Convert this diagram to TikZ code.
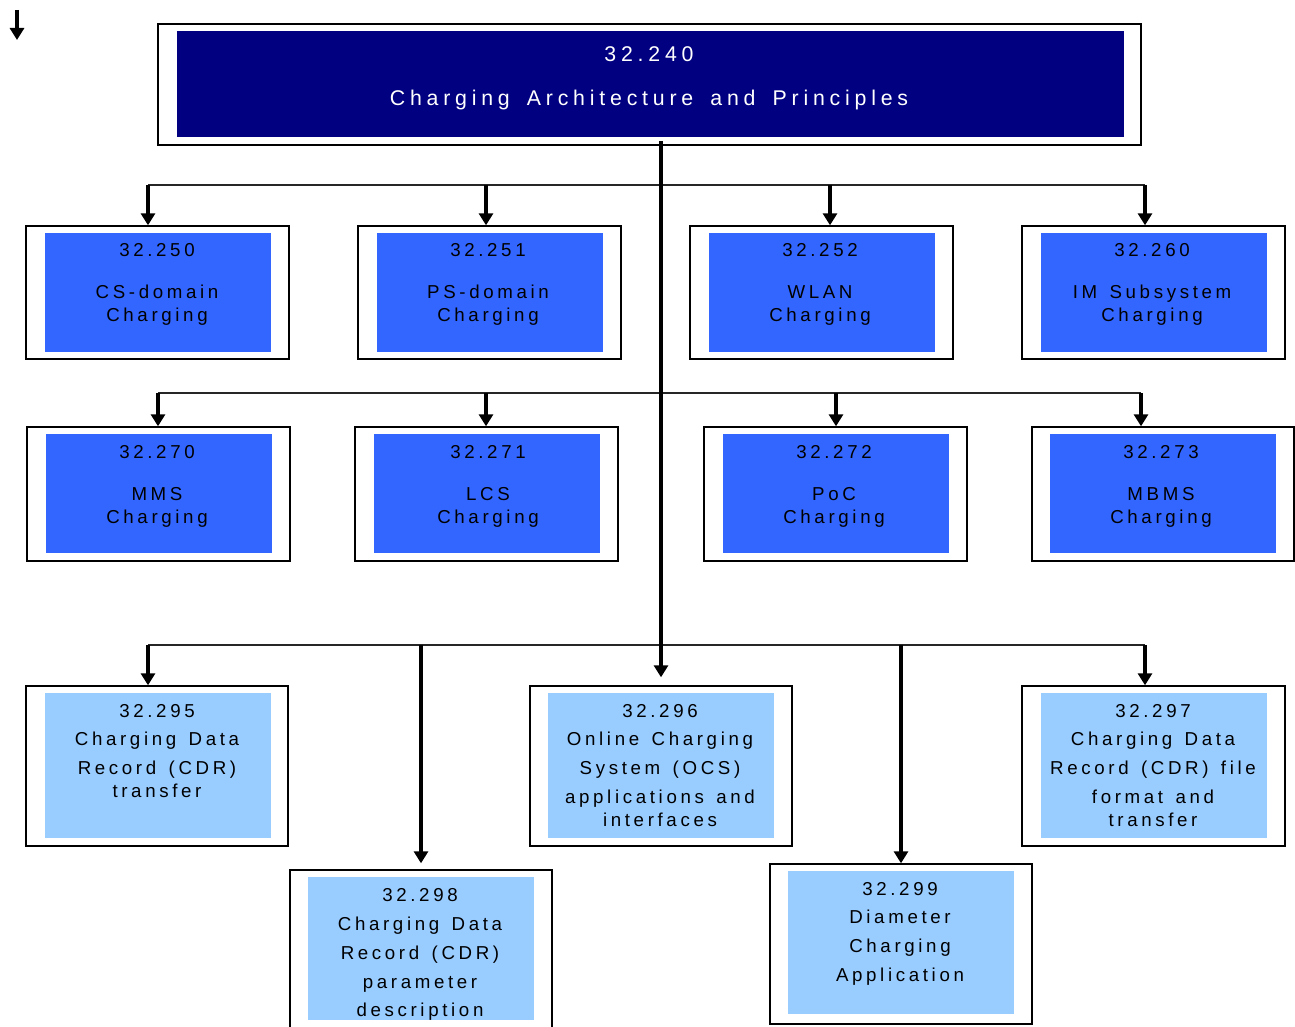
\documentclass[tikz,border=0pt]{standalone}
\usepackage{fontspec}
\setmainfont{Liberation Sans}[LetterSpace=19.5,WordSpace=1.4]
\newfontfamily\titlefont{Liberation Sans}[LetterSpace=22.5,WordSpace=1.6]
\usetikzlibrary{arrows.meta}
\definecolor{navyfill}{RGB}{0,0,128}
\definecolor{midblue}{RGB}{51,102,255}
\definecolor{lightblue}{RGB}{153,204,255}
\tikzset{
  outerbox/.style={draw=black, line width=1.4pt, fill=white, inner sep=0pt},
  innerbox/.style={draw=none, inner sep=0pt},
  lbl/.style={align=center, inner sep=0pt, anchor=north, text=black,
              font=\fontsize{18.7}{22.5}\selectfont},
  titlelbl/.style={align=center, inner sep=0pt, anchor=north, text=white,
              font=\titlefont\fontsize{21.3}{24}\selectfont},
  busline/.style={draw=black!85, line width=1.3pt},
  arr/.style={draw=black, line width=3.3pt,
              -{Triangle[width=14pt,length=12pt]}},
}
\begin{document}
\begin{tikzpicture}[x=1pt,y=-1pt]
\clip (0,0) rectangle (1295,1027);
\useasboundingbox (0,0) rectangle (1295,1027);
\fill[white] (0,0) rectangle (1295,1027);

% top-left lone arrow
\coordinate (la) at (17,10);
\coordinate (lb) at (17,40);
\draw[arr] (la) -- (lb);

% title box
\node[outerbox, minimum width=983pt, minimum height=121pt] (o240) at (649.5,84.5) {};
\node[innerbox, fill=navyfill, minimum width=947pt, minimum height=106pt] (i240) at (650.5,84) {};
\node[titlelbl] (t240) at (649,46) {32.240\\[20pt]Charging Architecture and Principles};

% bus coordinates
\coordinate (trunk) at (661,141);
\coordinate (b1L) at (148,185);
\coordinate (b1R) at (1145,185);
\coordinate (b1b) at (486,185);
\coordinate (b1c) at (830,185);
\coordinate (b2L) at (158,393);
\coordinate (b2R) at (1141,393);
\coordinate (b2b) at (486,393);
\coordinate (b2c) at (836,393);
\coordinate (b3L) at (148,645);
\coordinate (b3R) at (1145,645);
\coordinate (b3b) at (421,645);
\coordinate (b3c) at (901,645);

% row 1
\node[outerbox, minimum width=263pt, minimum height=133pt] (o250) at (157.5,292.5) {};
\node[innerbox, fill=midblue, minimum width=226pt, minimum height=119pt] (i250) at (158,292.5) {};
\node[lbl] (t250) at (157,243) {32.250\\[20pt]CS-domain\\Charging};

\node[outerbox, minimum width=263pt, minimum height=133pt] (o251) at (489.5,292.5) {};
\node[innerbox, fill=midblue, minimum width=226pt, minimum height=119pt] (i251) at (490,292.5) {};
\node[lbl] (t251) at (488,243) {32.251\\[20pt]PS-domain\\Charging};

\node[outerbox, minimum width=263pt, minimum height=133pt] (o252) at (821.5,292.5) {};
\node[innerbox, fill=midblue, minimum width=226pt, minimum height=119pt] (i252) at (822,292.5) {};
\node[lbl] (t252) at (820,243) {32.252\\[20pt]WLAN\\Charging};

\node[outerbox, minimum width=263pt, minimum height=133pt] (o260) at (1153.5,292.5) {};
\node[innerbox, fill=midblue, minimum width=226pt, minimum height=119pt] (i260) at (1154,292.5) {};
\node[lbl] (t260) at (1152,243) {32.260\\[20pt]IM Subsystem\\Charging};

% row 2
\node[outerbox, minimum width=263pt, minimum height=134pt] (o270) at (158.5,494) {};
\node[innerbox, fill=midblue, minimum width=226pt, minimum height=119pt] (i270) at (159,493.5) {};
\node[lbl] (t270) at (157,445) {32.270\\[20pt]MMS\\Charging};

\node[outerbox, minimum width=263pt, minimum height=134pt] (o271) at (486.5,494) {};
\node[innerbox, fill=midblue, minimum width=226pt, minimum height=119pt] (i271) at (487,493.5) {};
\node[lbl] (t271) at (488,445) {32.271\\[20pt]LCS\\Charging};

\node[outerbox, minimum width=263pt, minimum height=134pt] (o272) at (835.5,494) {};
\node[innerbox, fill=midblue, minimum width=226pt, minimum height=119pt] (i272) at (836,493.5) {};
\node[lbl] (t272) at (834,445) {32.272\\[20pt]PoC\\Charging};

\node[outerbox, minimum width=262pt, minimum height=134pt] (o273) at (1163,494) {};
\node[innerbox, fill=midblue, minimum width=226pt, minimum height=119pt] (i273) at (1163,493.5) {};
\node[lbl] (t273) at (1161,445) {32.273\\[20pt]MBMS\\Charging};

% row 3
\node[outerbox, minimum width=262pt, minimum height=160pt] (o295) at (157,766) {};
\node[innerbox, fill=lightblue, minimum width=226pt, minimum height=145pt] (i295) at (158,765.5) {};
\node[lbl] (t295) at (157,704) {32.295\\[6pt]Charging Data\\[6.5pt]Record (CDR)\\transfer};

\node[outerbox, minimum width=262pt, minimum height=160pt] (o296) at (661,766) {};
\node[innerbox, fill=lightblue, minimum width=226pt, minimum height=145pt] (i296) at (661,765.5) {};
\node[lbl] (t296) at (660,704) {32.296\\[6pt]Online Charging\\[6.5pt]System (OCS)\\[6.5pt]applications and\\interfaces};

\node[outerbox, minimum width=263pt, minimum height=160pt] (o297) at (1153.5,766) {};
\node[innerbox, fill=lightblue, minimum width=226pt, minimum height=145pt] (i297) at (1154,765.5) {};
\node[lbl] (t297) at (1153,704) {32.297\\[6pt]Charging Data\\[6.5pt]Record (CDR) file\\[6.5pt]format and\\transfer};

% row 4
\node[outerbox, minimum width=262pt, minimum height=166pt] (o298) at (421,953) {};
\node[innerbox, fill=lightblue, minimum width=226pt, minimum height=143pt] (i298) at (421,948.5) {};
\node[lbl] (t298) at (420,888) {32.298\\[6.5pt]Charging Data\\[6.5pt]Record (CDR)\\[6.5pt]parameter\\[6pt]description};

\node[outerbox, minimum width=262pt, minimum height=160pt] (o299) at (901,944) {};
\node[innerbox, fill=lightblue, minimum width=226pt, minimum height=143pt] (i299) at (901,942.5) {};
\node[lbl] (t299) at (900,882) {32.299\\[6pt]Diameter\\[6.5pt]Charging\\[6pt]Application};

% buses
\draw[busline] (b1L) -- (b1R);
\draw[busline] (b2L) -- (b2R);
\draw[busline] (b3L) -- (b3R);

% trunk
\draw[arr, shorten >=8pt] (trunk) -- (o296.north);

% row 1 arrows
\draw[arr] (b1L) -- (b1L |- o250.north);
\draw[arr] (b1b) -- (b1b |- o251.north);
\draw[arr] (b1c) -- (b1c |- o252.north);
\draw[arr] (b1R) -- (b1R |- o260.north);

% row 2 arrows
\draw[arr] (b2L) -- (b2L |- o270.north);
\draw[arr] (b2b) -- (b2b |- o271.north);
\draw[arr] (b2c) -- (b2c |- o272.north);
\draw[arr] (b2R) -- (b2R |- o273.north);

% row 3 arrows
\draw[arr] (b3L) -- (b3L |- o295.north);
\draw[arr] (b3R) -- (b3R |- o297.north);
\draw[arr, shorten >=6pt] (b3b) -- (o298.north);
\draw[arr] (b3c) -- (o299.north);
\end{tikzpicture}
\end{document}
